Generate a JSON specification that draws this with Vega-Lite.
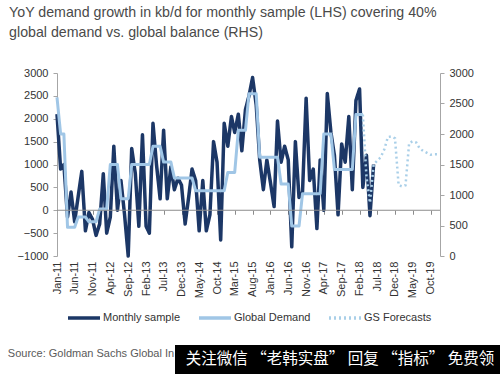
{
  "$schema": "https://vega.github.io/schema/vega-lite/v6.json",
  "padding": {"top": 5, "left": 7, "right": 0, "bottom": 0},
  "background": "white",
  "columns": 1,
  "spacing": 20,
  "resolve": {"scale": {"color": "independent", "strokeDash": "independent"}},
  "datasets": {
    "ms": [
      {"date":"2011-01-01","series":"Monthly sample","value":2100},
      {"date":"2011-02-01","series":"Monthly sample","value":900},
      {"date":"2011-03-01","series":"Monthly sample","value":1000},
      {"date":"2011-04-01","series":"Monthly sample","value":-150},
      {"date":"2011-05-01","series":"Monthly sample","value":400},
      {"date":"2011-06-01","series":"Monthly sample","value":-250},
      {"date":"2011-07-01","series":"Monthly sample","value":300},
      {"date":"2011-08-01","series":"Monthly sample","value":850},
      {"date":"2011-09-01","series":"Monthly sample","value":-450},
      {"date":"2011-10-01","series":"Monthly sample","value":-50},
      {"date":"2011-11-01","series":"Monthly sample","value":-200},
      {"date":"2011-12-01","series":"Monthly sample","value":-550},
      {"date":"2012-01-01","series":"Monthly sample","value":-300},
      {"date":"2012-02-01","series":"Monthly sample","value":800},
      {"date":"2012-03-01","series":"Monthly sample","value":-500},
      {"date":"2012-04-01","series":"Monthly sample","value":-150},
      {"date":"2012-05-01","series":"Monthly sample","value":1400},
      {"date":"2012-06-01","series":"Monthly sample","value":0},
      {"date":"2012-07-01","series":"Monthly sample","value":650},
      {"date":"2012-08-01","series":"Monthly sample","value":-100},
      {"date":"2012-09-01","series":"Monthly sample","value":-1000},
      {"date":"2012-10-01","series":"Monthly sample","value":1350},
      {"date":"2012-11-01","series":"Monthly sample","value":800},
      {"date":"2012-12-01","series":"Monthly sample","value":-350},
      {"date":"2013-01-01","series":"Monthly sample","value":1650},
      {"date":"2013-02-01","series":"Monthly sample","value":-350},
      {"date":"2013-03-01","series":"Monthly sample","value":-500},
      {"date":"2013-04-01","series":"Monthly sample","value":1900},
      {"date":"2013-05-01","series":"Monthly sample","value":1000},
      {"date":"2013-06-01","series":"Monthly sample","value":250},
      {"date":"2013-07-01","series":"Monthly sample","value":1750},
      {"date":"2013-08-01","series":"Monthly sample","value":250},
      {"date":"2013-09-01","series":"Monthly sample","value":950},
      {"date":"2013-10-01","series":"Monthly sample","value":450},
      {"date":"2013-11-01","series":"Monthly sample","value":700},
      {"date":"2013-12-01","series":"Monthly sample","value":550},
      {"date":"2014-01-01","series":"Monthly sample","value":-300},
      {"date":"2014-02-01","series":"Monthly sample","value":300},
      {"date":"2014-03-01","series":"Monthly sample","value":900},
      {"date":"2014-04-01","series":"Monthly sample","value":650},
      {"date":"2014-05-01","series":"Monthly sample","value":-450},
      {"date":"2014-06-01","series":"Monthly sample","value":650},
      {"date":"2014-07-01","series":"Monthly sample","value":-450},
      {"date":"2014-08-01","series":"Monthly sample","value":-100},
      {"date":"2014-09-01","series":"Monthly sample","value":1500},
      {"date":"2014-10-01","series":"Monthly sample","value":1050},
      {"date":"2014-11-01","series":"Monthly sample","value":-650},
      {"date":"2014-12-01","series":"Monthly sample","value":1900},
      {"date":"2015-01-01","series":"Monthly sample","value":1400},
      {"date":"2015-02-01","series":"Monthly sample","value":2050},
      {"date":"2015-03-01","series":"Monthly sample","value":1700},
      {"date":"2015-04-01","series":"Monthly sample","value":2100},
      {"date":"2015-05-01","series":"Monthly sample","value":1300},
      {"date":"2015-06-01","series":"Monthly sample","value":2200},
      {"date":"2015-07-01","series":"Monthly sample","value":2500},
      {"date":"2015-08-01","series":"Monthly sample","value":2900},
      {"date":"2015-09-01","series":"Monthly sample","value":2300},
      {"date":"2015-10-01","series":"Monthly sample","value":1100},
      {"date":"2015-11-01","series":"Monthly sample","value":450},
      {"date":"2015-12-01","series":"Monthly sample","value":1100},
      {"date":"2016-01-01","series":"Monthly sample","value":600},
      {"date":"2016-02-01","series":"Monthly sample","value":80},
      {"date":"2016-03-01","series":"Monthly sample","value":1950},
      {"date":"2016-04-01","series":"Monthly sample","value":1050},
      {"date":"2016-05-01","series":"Monthly sample","value":1400},
      {"date":"2016-06-01","series":"Monthly sample","value":1100},
      {"date":"2016-07-01","series":"Monthly sample","value":-800},
      {"date":"2016-08-01","series":"Monthly sample","value":1500},
      {"date":"2016-09-01","series":"Monthly sample","value":280},
      {"date":"2016-10-01","series":"Monthly sample","value":400},
      {"date":"2016-11-01","series":"Monthly sample","value":2450},
      {"date":"2016-12-01","series":"Monthly sample","value":650},
      {"date":"2017-01-01","series":"Monthly sample","value":900},
      {"date":"2017-02-01","series":"Monthly sample","value":-400},
      {"date":"2017-03-01","series":"Monthly sample","value":1100},
      {"date":"2017-04-01","series":"Monthly sample","value":0},
      {"date":"2017-05-01","series":"Monthly sample","value":2550},
      {"date":"2017-06-01","series":"Monthly sample","value":1700},
      {"date":"2017-07-01","series":"Monthly sample","value":1200},
      {"date":"2017-08-01","series":"Monthly sample","value":-100},
      {"date":"2017-09-01","series":"Monthly sample","value":1450},
      {"date":"2017-10-01","series":"Monthly sample","value":1050},
      {"date":"2017-11-01","series":"Monthly sample","value":2050},
      {"date":"2017-12-01","series":"Monthly sample","value":450},
      {"date":"2018-01-01","series":"Monthly sample","value":2400},
      {"date":"2018-02-01","series":"Monthly sample","value":2650},
      {"date":"2018-03-01","series":"Monthly sample","value":500},
      {"date":"2018-04-01","series":"Monthly sample","value":1200},
      {"date":"2018-05-01","series":"Monthly sample","value":-120},
      {"date":"2018-06-01","series":"Monthly sample","value":1000}
    ],
    "gd": [
      {"date":"2011-01-01","series":"Global Demand","value":2600},
      {"date":"2011-02-01","series":"Global Demand","value":2000},
      {"date":"2011-03-01","series":"Global Demand","value":2000},
      {"date":"2011-04-01","series":"Global Demand","value":470},
      {"date":"2011-05-01","series":"Global Demand","value":470},
      {"date":"2011-06-01","series":"Global Demand","value":470},
      {"date":"2011-07-01","series":"Global Demand","value":640},
      {"date":"2011-08-01","series":"Global Demand","value":640},
      {"date":"2011-09-01","series":"Global Demand","value":640},
      {"date":"2011-10-01","series":"Global Demand","value":560},
      {"date":"2011-11-01","series":"Global Demand","value":560},
      {"date":"2011-12-01","series":"Global Demand","value":560},
      {"date":"2012-01-01","series":"Global Demand","value":770},
      {"date":"2012-02-01","series":"Global Demand","value":770},
      {"date":"2012-03-01","series":"Global Demand","value":770},
      {"date":"2012-04-01","series":"Global Demand","value":1500},
      {"date":"2012-05-01","series":"Global Demand","value":1500},
      {"date":"2012-06-01","series":"Global Demand","value":1500},
      {"date":"2012-07-01","series":"Global Demand","value":940},
      {"date":"2012-08-01","series":"Global Demand","value":940},
      {"date":"2012-09-01","series":"Global Demand","value":940},
      {"date":"2012-10-01","series":"Global Demand","value":1500},
      {"date":"2012-11-01","series":"Global Demand","value":1500},
      {"date":"2012-12-01","series":"Global Demand","value":1500},
      {"date":"2013-01-01","series":"Global Demand","value":1500},
      {"date":"2013-02-01","series":"Global Demand","value":1500},
      {"date":"2013-03-01","series":"Global Demand","value":1500},
      {"date":"2013-04-01","series":"Global Demand","value":1800},
      {"date":"2013-05-01","series":"Global Demand","value":1800},
      {"date":"2013-06-01","series":"Global Demand","value":1800},
      {"date":"2013-07-01","series":"Global Demand","value":1540},
      {"date":"2013-08-01","series":"Global Demand","value":1540},
      {"date":"2013-09-01","series":"Global Demand","value":1540},
      {"date":"2013-10-01","series":"Global Demand","value":1280},
      {"date":"2013-11-01","series":"Global Demand","value":1280},
      {"date":"2013-12-01","series":"Global Demand","value":1280},
      {"date":"2014-01-01","series":"Global Demand","value":1280},
      {"date":"2014-02-01","series":"Global Demand","value":1280},
      {"date":"2014-03-01","series":"Global Demand","value":1280},
      {"date":"2014-04-01","series":"Global Demand","value":1070},
      {"date":"2014-05-01","series":"Global Demand","value":1070},
      {"date":"2014-06-01","series":"Global Demand","value":1070},
      {"date":"2014-07-01","series":"Global Demand","value":1070},
      {"date":"2014-08-01","series":"Global Demand","value":1070},
      {"date":"2014-09-01","series":"Global Demand","value":1070},
      {"date":"2014-10-01","series":"Global Demand","value":1070},
      {"date":"2014-11-01","series":"Global Demand","value":1070},
      {"date":"2014-12-01","series":"Global Demand","value":1070},
      {"date":"2015-01-01","series":"Global Demand","value":1370},
      {"date":"2015-02-01","series":"Global Demand","value":1370},
      {"date":"2015-03-01","series":"Global Demand","value":1370},
      {"date":"2015-04-01","series":"Global Demand","value":2060},
      {"date":"2015-05-01","series":"Global Demand","value":2060},
      {"date":"2015-06-01","series":"Global Demand","value":2060},
      {"date":"2015-07-01","series":"Global Demand","value":2660},
      {"date":"2015-08-01","series":"Global Demand","value":2660},
      {"date":"2015-09-01","series":"Global Demand","value":2660},
      {"date":"2015-10-01","series":"Global Demand","value":1620},
      {"date":"2015-11-01","series":"Global Demand","value":1620},
      {"date":"2015-12-01","series":"Global Demand","value":1620},
      {"date":"2016-01-01","series":"Global Demand","value":1620},
      {"date":"2016-02-01","series":"Global Demand","value":1620},
      {"date":"2016-03-01","series":"Global Demand","value":1620},
      {"date":"2016-04-01","series":"Global Demand","value":1180},
      {"date":"2016-05-01","series":"Global Demand","value":1180},
      {"date":"2016-06-01","series":"Global Demand","value":1180},
      {"date":"2016-07-01","series":"Global Demand","value":490},
      {"date":"2016-08-01","series":"Global Demand","value":490},
      {"date":"2016-09-01","series":"Global Demand","value":490},
      {"date":"2016-10-01","series":"Global Demand","value":1020},
      {"date":"2016-11-01","series":"Global Demand","value":1020},
      {"date":"2016-12-01","series":"Global Demand","value":1020},
      {"date":"2017-01-01","series":"Global Demand","value":1020},
      {"date":"2017-02-01","series":"Global Demand","value":1020},
      {"date":"2017-03-01","series":"Global Demand","value":1020},
      {"date":"2017-04-01","series":"Global Demand","value":2000},
      {"date":"2017-05-01","series":"Global Demand","value":2000},
      {"date":"2017-06-01","series":"Global Demand","value":2000},
      {"date":"2017-07-01","series":"Global Demand","value":1420},
      {"date":"2017-08-01","series":"Global Demand","value":1420},
      {"date":"2017-09-01","series":"Global Demand","value":1420},
      {"date":"2017-10-01","series":"Global Demand","value":1420},
      {"date":"2017-11-01","series":"Global Demand","value":1420},
      {"date":"2017-12-01","series":"Global Demand","value":1420},
      {"date":"2018-01-01","series":"Global Demand","value":2320},
      {"date":"2018-02-01","series":"Global Demand","value":2320},
      {"date":"2018-03-01","series":"Global Demand","value":2320}
    ],
    "gs": [
      {"date":"2018-03-01","series":"GS Forecasts","value":2320},
      {"date":"2018-04-01","series":"GS Forecasts","value":1300},
      {"date":"2018-05-01","series":"GS Forecasts","value":870},
      {"date":"2018-06-01","series":"GS Forecasts","value":1500},
      {"date":"2018-07-01","series":"GS Forecasts","value":1560},
      {"date":"2018-08-01","series":"GS Forecasts","value":1620},
      {"date":"2018-09-01","series":"GS Forecasts","value":1750},
      {"date":"2018-10-01","series":"GS Forecasts","value":1950},
      {"date":"2018-11-01","series":"GS Forecasts","value":1960},
      {"date":"2018-12-01","series":"GS Forecasts","value":1930},
      {"date":"2019-01-01","series":"GS Forecasts","value":1160},
      {"date":"2019-02-01","series":"GS Forecasts","value":1140},
      {"date":"2019-03-01","series":"GS Forecasts","value":1160},
      {"date":"2019-04-01","series":"GS Forecasts","value":1850},
      {"date":"2019-05-01","series":"GS Forecasts","value":1880},
      {"date":"2019-06-01","series":"GS Forecasts","value":1860},
      {"date":"2019-07-01","series":"GS Forecasts","value":1760},
      {"date":"2019-08-01","series":"GS Forecasts","value":1720},
      {"date":"2019-09-01","series":"GS Forecasts","value":1690},
      {"date":"2019-10-01","series":"GS Forecasts","value":1660},
      {"date":"2019-11-01","series":"GS Forecasts","value":1670},
      {"date":"2019-12-01","series":"GS Forecasts","value":1670}
    ],
    "zero": [{"z": 0}],
    "src": [{"t": "Source: Goldman Sachs Global In"}],
    "banner": [{"t": "关注微信 “老韩实盘” 回复 “指标” 免费领"}]
  },
  "concat": [
    {
      "width": 383,
      "height": 183,
      "title": {
        "text": ["YoY demand growth in kb/d for monthly sample (LHS) covering 40%", "global demand vs. global balance (RHS)"],
        "anchor": "start",
        "frame": "bounds",
        "dx": -8,
        "fontSize": 14.2,
        "lineHeight": 20,
        "font": "Liberation Sans",
        "fontWeight": "normal",
        "color": "#4a4a4a",
        "offset": 27
      },
      "layer": [
        {
          "layer": [
            {
              "data": {"name": "ms"},
              "mark": {"type": "line", "strokeWidth": 3.5, "strokeJoin": "round"},
              "encoding": {
                "x": {
                  "field": "date", "type": "temporal",
                  "scale": {"type": "utc", "domain": [{"year": 2011, "month": 1, "date": 1, "utc": true}, {"year": 2019, "month": 12, "date": 21, "utc": true}]},
                  "axis": {
                    "title": null, "orient": "bottom", "format": "%b-%y", "labelAngle": -90, "domain": false, "ticks": false,
                    "labelPadding": 5, "labelOverlap": false, "labelFlush": false, "grid": false,
                    "values": [
                      {"year": 2011, "month": 1, "date": 1, "utc": true},
                      {"year": 2011, "month": 6, "date": 1, "utc": true},
                      {"year": 2011, "month": 11, "date": 1, "utc": true},
                      {"year": 2012, "month": 4, "date": 1, "utc": true},
                      {"year": 2012, "month": 9, "date": 1, "utc": true},
                      {"year": 2013, "month": 2, "date": 1, "utc": true},
                      {"year": 2013, "month": 7, "date": 1, "utc": true},
                      {"year": 2013, "month": 12, "date": 1, "utc": true},
                      {"year": 2014, "month": 5, "date": 1, "utc": true},
                      {"year": 2014, "month": 10, "date": 1, "utc": true},
                      {"year": 2015, "month": 3, "date": 1, "utc": true},
                      {"year": 2015, "month": 8, "date": 1, "utc": true},
                      {"year": 2016, "month": 1, "date": 1, "utc": true},
                      {"year": 2016, "month": 6, "date": 1, "utc": true},
                      {"year": 2016, "month": 11, "date": 1, "utc": true},
                      {"year": 2017, "month": 4, "date": 1, "utc": true},
                      {"year": 2017, "month": 9, "date": 1, "utc": true},
                      {"year": 2018, "month": 2, "date": 1, "utc": true},
                      {"year": 2018, "month": 7, "date": 1, "utc": true},
                      {"year": 2018, "month": 12, "date": 1, "utc": true},
                      {"year": 2019, "month": 5, "date": 1, "utc": true},
                      {"year": 2019, "month": 10, "date": 1, "utc": true}
                    ]
                  }
                },
                "y": {
                  "field": "value", "type": "quantitative",
                  "scale": {"domain": [-1000, 3000], "nice": false, "zero": false},
                  "axis": {"title": null, "orient": "left", "format": "d", "values": [-1000, -500, 0, 500, 1000, 1500, 2000, 2500, 3000], "tickSize": 4, "labelPadding": 5, "labelOverlap": false, "grid": false}
                },
                "color": {
                  "field": "series", "type": "nominal",
                  "scale": {"domain": ["Monthly sample", "Global Demand", "GS Forecasts"], "range": ["#1c3766", "#a0c6e6", "#a9cfe8"]},
                  "legend": {"title": null}
                },
                "strokeDash": {
                  "field": "series", "type": "nominal",
                  "scale": {"domain": ["Monthly sample", "Global Demand", "GS Forecasts"], "range": [[1, 0], [1, 0], [2, 3]]},
                  "legend": {"title": null}
                }
              }
            }
          ]
        },
        {
          "layer": [
            {
              "data": {"name": "gd"},
              "mark": {"type": "line", "strokeWidth": 3, "strokeJoin": "round"},
              "encoding": {
                "x": {"field": "date", "type": "temporal", "axis": null},
                "y": {
                  "field": "value", "type": "quantitative",
                  "scale": {"domain": [0, 3000], "nice": false},
                  "axis": {"title": null, "orient": "right", "format": "d", "values": [0, 500, 1000, 1500, 2000, 2500, 3000], "tickSize": 4, "labelPadding": 5, "labelOverlap": false, "grid": false}
                },
                "color": {"field": "series", "type": "nominal"},
                "strokeDash": {"field": "series", "type": "nominal"}
              }
            },
            {
              "data": {"name": "gs"},
              "mark": {"type": "line", "strokeWidth": 2.5},
              "encoding": {
                "x": {"field": "date", "type": "temporal", "axis": null},
                "y": {
                  "field": "value", "type": "quantitative",
                  "axis": {"title": null, "orient": "right", "format": "d", "values": [0, 500, 1000, 1500, 2000, 2500, 3000], "tickSize": 4, "labelPadding": 5, "labelOverlap": false, "grid": false}
                },
                "color": {"field": "series", "type": "nominal"},
                "strokeDash": {"field": "series", "type": "nominal"}
              }
            }
          ]
        },
        {
          "data": {"name": "zero"},
          "mark": {"type": "rule", "color": "#8c8c8c", "strokeWidth": 1},
          "encoding": {
            "x": {
              "datum": {"year": 2011, "month": 1, "date": 1, "utc": true}, "type": "temporal",
              "axis": {
                "title": null, "orient": "bottom", "labels": false, "domain": false, "ticks": true, "tickSize": 4, "tickColor": "#8c8c8c",
                "offset": -45.75, "grid": false,
                "values": [
                  {"year": 2011, "month": 1, "date": 1, "utc": true},
                  {"year": 2011, "month": 6, "date": 1, "utc": true},
                  {"year": 2011, "month": 11, "date": 1, "utc": true},
                  {"year": 2012, "month": 4, "date": 1, "utc": true},
                  {"year": 2012, "month": 9, "date": 1, "utc": true},
                  {"year": 2013, "month": 2, "date": 1, "utc": true},
                  {"year": 2013, "month": 7, "date": 1, "utc": true},
                  {"year": 2013, "month": 12, "date": 1, "utc": true},
                  {"year": 2014, "month": 5, "date": 1, "utc": true},
                  {"year": 2014, "month": 10, "date": 1, "utc": true},
                  {"year": 2015, "month": 3, "date": 1, "utc": true},
                  {"year": 2015, "month": 8, "date": 1, "utc": true},
                  {"year": 2016, "month": 1, "date": 1, "utc": true},
                  {"year": 2016, "month": 6, "date": 1, "utc": true},
                  {"year": 2016, "month": 11, "date": 1, "utc": true},
                  {"year": 2017, "month": 4, "date": 1, "utc": true},
                  {"year": 2017, "month": 9, "date": 1, "utc": true},
                  {"year": 2018, "month": 2, "date": 1, "utc": true},
                  {"year": 2018, "month": 7, "date": 1, "utc": true},
                  {"year": 2018, "month": 12, "date": 1, "utc": true},
                  {"year": 2019, "month": 5, "date": 1, "utc": true},
                  {"year": 2019, "month": 10, "date": 1, "utc": true}
                ]
              }
            },
            "x2": {"datum": {"year": 2019, "month": 12, "date": 21, "utc": true}},
            "y": {"datum": 0, "type": "quantitative", "scale": {"domain": [-1000, 3000], "nice": false, "zero": false}, "axis": null}
          }
        }
      ],
      "resolve": {"scale": {"y": "independent"}, "axis": {"x": "independent"}}
    },
    {
      "spacing": 0,
      "hconcat": [
        {
          "width": 118,
          "height": 30,
          "data": {"name": "src"},
          "mark": {"type": "text", "align": "center", "baseline": "middle", "fontSize": 11, "color": "#5a5a5a", "font": "Liberation Sans", "dx": -25, "dy": -6},
          "encoding": {"text": {"field": "t", "type": "nominal"}}
        },
        {
          "width": 330,
          "height": 30,
          "view": {"fill": "#000000", "stroke": null},
          "data": {"name": "banner"},
          "mark": {"type": "text", "align": "center", "baseline": "middle", "fontSize": 15.5, "color": "#ffffff", "font": "Noto Sans CJK SC", "dy": -1},
          "encoding": {"text": {"field": "t", "type": "nominal"}}
        }
      ]
    }
  ],
  "config": {
    "view": {"stroke": null},
    "font": "Liberation Sans",
    "axis": {"labelFont": "Liberation Sans", "labelFontSize": 11, "labelColor": "#333333", "domainColor": "#a6a6a6", "tickColor": "#a6a6a6"},
    "axisX": {"labelOverlap": false},
    "axisY": {"labelOverlap": false},
    "legend": {
      "orient": "bottom", "direction": "horizontal", "symbolType": "stroke", "symbolSize": 1024,
      "symbolStrokeWidth": 3.5, "labelFont": "Liberation Sans", "labelFontSize": 11, "labelColor": "#333333",
      "labelOffset": 1, "columnPadding": 11, "padding": 0, "offset": 2, "layout": {"bottom": {"anchor": "middle"}}
    }
  }
}
